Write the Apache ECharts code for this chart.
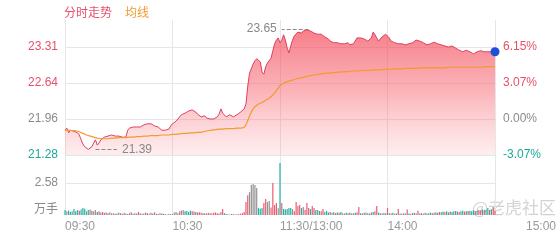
<!DOCTYPE html>
<html><head><meta charset="utf-8">
<script src="https://cdn.jsdelivr.net/npm/echarts@6/dist/echarts.min.js"></script>
<style>html,body{margin:0;padding:0;background:#fff}#c{width:560px;height:240px}</style>
</head><body><div id="c"></div>
<script>
const prevClose = 21.96;
const priceTickLabels = ['21.28', '21.96', '22.64', '23.31'];
const pctTickLabels = ['-3.07%', '0.00%', '3.07%', '6.15%'];
const volTickLabels = ['万手', '2.58'];
const timeTickLabels = ['09:30', '10:30', '11:30/13:00', '14:00', '15:00'];

// 09:30 - 11:30 (121 minutes)
const priceAM = [
21.75,21.79,21.70,21.75,21.72,21.73,21.72,21.70,21.66,21.57,
21.49,21.44,21.42,21.39,21.42,21.44,21.51,21.57,21.47,21.51,
21.57,21.60,21.62,21.60,21.64,21.62,21.66,21.64,21.64,21.62,
21.64,21.62,21.62,21.60,21.62,21.75,21.79,21.77,21.81,21.79,
21.81,21.83,21.81,21.83,21.85,21.83,21.87,21.88,21.87,21.87,
21.83,21.85,21.81,21.79,21.75,21.74,21.75,21.75,21.77,21.83,
21.87,21.90,21.92,21.94,22.00,22.04,22.05,22.07,22.07,22.11,
22.11,22.13,22.11,22.09,22.05,22.04,22.00,22.00,22.02,21.98,
21.96,21.96,21.94,21.96,21.98,22.00,22.05,22.15,22.07,22.04,
22.00,22.02,22.04,22.02,22.00,22.02,22.04,22.05,22.09,22.11,
22.15,22.24,22.58,22.82,22.82,22.99,23.05,23.09,23.07,23.03,
22.84,22.80,22.94,23.01,23.01,23.10,23.24,23.37,23.44,23.48,
23.39];
// 13:01 - 15:00 (120 minutes)
const pricePM = [
23.44,23.54,23.44,23.29,23.20,23.33,23.44,23.52,23.55,23.59,
23.57,23.57,23.61,23.63,23.63,23.65,23.61,23.59,23.57,23.54,
23.55,23.57,23.55,23.54,23.50,23.48,23.46,23.42,23.39,23.39,
23.37,23.39,23.37,23.37,23.35,23.37,23.39,23.39,23.35,23.35,
23.37,23.39,23.48,23.50,23.48,23.48,23.46,23.44,23.42,23.40,
23.48,23.59,23.54,23.48,23.42,23.42,23.50,23.52,23.55,23.57,
23.48,23.42,23.39,23.39,23.37,23.37,23.35,23.37,23.35,23.35,
23.37,23.37,23.39,23.39,23.40,23.44,23.44,23.42,23.40,23.39,
23.37,23.35,23.37,23.37,23.39,23.40,23.39,23.37,23.35,23.35,
23.33,23.33,23.31,23.31,23.31,23.33,23.31,23.29,23.27,23.25,
23.24,23.22,23.24,23.25,23.24,23.22,23.20,23.18,23.16,23.22,
23.22,23.24,23.22,23.22,23.24,23.22,23.22,23.22,23.22,23.22];

const avgAM = [
21.75,21.76,21.75,21.75,21.74,21.74,21.74,21.73,21.72,21.71,
21.69,21.68,21.66,21.65,21.64,21.62,21.62,21.61,21.60,21.60,
21.59,21.59,21.59,21.59,21.59,21.60,21.60,21.60,21.60,21.60,
21.61,21.61,21.61,21.61,21.61,21.61,21.62,21.62,21.62,21.62,
21.63,21.63,21.63,21.63,21.64,21.64,21.64,21.64,21.65,21.65,
21.65,21.65,21.65,21.66,21.66,21.66,21.66,21.66,21.66,21.67,
21.67,21.67,21.67,21.68,21.68,21.68,21.69,21.69,21.69,21.70,
21.70,21.70,21.70,21.71,21.71,21.71,21.71,21.72,21.73,21.73,
21.74,21.74,21.75,21.75,21.76,21.76,21.77,21.77,21.77,21.77,
21.78,21.78,21.78,21.78,21.78,21.79,21.79,21.79,21.79,21.79,
21.80,21.85,21.93,22.01,22.09,22.15,22.19,22.22,22.24,22.26,
22.27,22.29,22.31,22.33,22.35,22.38,22.41,22.45,22.49,22.54,
22.59];
const avgPM = [
22.61,22.63,22.65,22.66,22.67,22.68,22.69,22.70,22.71,22.72,
22.73,22.73,22.74,22.75,22.76,22.77,22.78,22.78,22.79,22.79,
22.80,22.80,22.81,22.81,22.81,22.82,22.82,22.82,22.83,22.83,
22.83,22.84,22.84,22.84,22.84,22.85,22.85,22.85,22.85,22.86,
22.86,22.86,22.86,22.86,22.87,22.87,22.87,22.87,22.87,22.87,
22.88,22.88,22.88,22.88,22.88,22.88,22.88,22.89,22.89,22.89,
22.89,22.89,22.90,22.90,22.90,22.90,22.90,22.90,22.90,22.91,
22.91,22.91,22.91,22.91,22.91,22.91,22.92,22.92,22.92,22.92,
22.92,22.92,22.92,22.92,22.92,22.92,22.92,22.92,22.92,22.92,
22.92,22.92,22.93,22.93,22.93,22.93,22.93,22.93,22.93,22.93,
22.93,22.93,22.93,22.93,22.93,22.93,22.93,22.93,22.93,22.93,
22.93,22.93,22.93,22.94,22.94,22.94,22.94,22.94,22.94,22.94];

// volume, 万手
const volAM = [
0.40,0.30,0.35,0.25,0.30,0.48,0.30,0.40,0.35,0.45,
0.56,0.50,0.30,0.40,0.45,0.35,0.30,0.40,0.25,0.30,0.20,
0.25,0.18,0.20,0.15,0.22,0.12,0.15,0.10,0.12,0.20,
0.15,0.10,0.18,0.12,0.08,0.15,0.22,0.10,0.15,0.12,
0.25,0.15,0.10,0.12,0.20,0.15,0.10,0.18,0.12,0.22,
0.10,0.08,0.15,0.12,0.10,0.08,0.05,0.10,0.06,0.08,
0.20,0.25,0.15,0.30,0.35,0.40,0.30,0.32,0.25,0.35,
0.30,0.28,0.25,0.20,0.22,0.18,0.15,0.15,0.12,0.18,
0.15,0.12,0.18,0.20,0.15,0.12,0.25,0.48,0.15,0.08,
0.06,0.05,0.08,0.06,0.05,0.08,0.06,0.10,0.15,
0.25,1.05,1.60,1.85,2.42,2.50,2.42,2.18,0.56,0.50,
0.56,0.97,1.29,1.05,1.13,0.60,2.58,0.80,0.97,0.55,4.19];
const volPM = [
0.97,0.48,0.45,0.48,0.56,0.56,0.48,0.30,1.05,0.73,
0.80,0.56,0.64,0.40,0.97,0.56,0.48,0.73,0.56,0.40,
0.40,0.32,0.30,0.48,0.25,0.32,
0.20,0.25,0.18,0.22,0.15,0.20,0.18,0.25,0.15,0.12,
0.18,0.15,0.20,0.12,0.15,0.18,0.22,0.64,
0.15,0.12,0.18,0.20,0.15,0.12,0.20,0.25,0.30,0.73,
0.20,0.15,0.12,0.18,0.15,0.56,
0.15,0.12,0.18,0.10,0.12,0.48,
0.12,0.10,0.15,0.12,0.45,
0.12,0.10,0.15,0.18,0.12,0.35,
0.12,0.15,0.10,0.18,0.12,0.15,0.20,0.15,0.18,0.22,0.18,0.25,
0.22,0.28,0.25,0.30,0.22,0.28,0.25,0.30,0.32,0.28,
0.25,0.30,0.35,0.28,0.30,0.32,0.35,0.30,0.38,0.32,
0.35,0.40,0.38,0.45,0.40,0.42,
0.56,0.40,0.45,0.64,0.35];
// bar direction per minute: r = up, t = down, g = flat
const dirAM = ['tgttgtttrtttgtgrggtrg','rgrtgrgrtgrrgtrgrgtr','rgrtgrgrtgrrgtrgrgtr',
  'ggrgrgttttrrtrrrtrrgrrrrrrgrtrtgrtrgrrr','rrrgggggtttrrggrrrrgt'].join('');
const dirPM = ['rtttttgrrrrtgrrrtrrtgtrrtt','trgtrtrtgrtrtrgtr','r','trtgrtrtr','r','trtgt','r',
  'trtrt','r','tgrt','r','trtrt','r','trtrtgtrtrtr','ttrtrtttrtrttrtrtttrtrrtrt','t','rt','r','r'].join('');

const price = priceAM.concat(pricePM);
const avg = avgAM.concat(avgPM);
const vol = volAM.concat(volPM);
const dir = (dirAM + dirPM).split('');

function hm(t) { const h = Math.floor(t / 60), m = t % 60; return (h < 10 ? '0' : '') + h + ':' + (m < 10 ? '0' : '') + m; }
const times = [];
for (let t = 9 * 60 + 30; t <= 11 * 60 + 30; t++) times.push(hm(t));
for (let t = 13 * 60 + 1; t <= 15 * 60; t++) times.push(hm(t));

[price, avg, vol, dir].forEach((a, k) => { if (a.length !== times.length) throw new Error('len mismatch ' + k + ': ' + a.length); });

const F = '"Liberation Sans", Arial, "Noto Sans CJK SC", sans-serif';
const RED = '#e8506a', GREEN = '#1aa99b', GREY = '#8a8a8a', ORANGE = '#f29b2e';
const barColor = { r: '#ee5b70', t: '#22b3a5', g: '#929292' };
const priceMin = 21.285, priceStep = 0.675, priceMax = 23.816;
const volStep = 2.58, volMax = 4.84;

let maxI = 0, minI = 0;
price.forEach((v, i) => { if (v > price[maxI]) maxI = i; if (v < price[minI]) minI = i; });
const last = price.length - 1;

const tickStyle = ['d', 'n', 'u', 'u'];
const rich = {
  u: { color: RED, fontSize: 12, fontFamily: F },
  n: { color: GREY, fontSize: 12, fontFamily: F },
  d: { color: GREEN, fontSize: 12, fontFamily: F },
  g: { color: GREY, fontSize: 12, fontFamily: F },
  unit: { color: GREY, fontSize: 12, fontFamily: F, padding: [0, 0, 10, 0] }
};
const xRich = {
  t: { color: '#999', fontSize: 12, fontFamily: F },
  e: { color: '#999', fontSize: 12, fontFamily: F, padding: [0, 0, 0, 31] }
};
const splitX = { show: true, interval: (i) => i % 60 === 0, lineStyle: { color: '#e6e6e6', width: 1 } };

const chart = echarts.init(document.getElementById('c'), null, { renderer: 'canvas' });
chart.setOption({
  animation: false,
  legend: {
    left: 53, top: 3, itemWidth: 0, itemHeight: 0, itemGap: 7, selectedMode: false,
    textStyle: { fontSize: 12, fontFamily: F },
    data: [{ name: '分时走势', textStyle: { color: RED } }, { name: '均线', textStyle: { color: ORANGE } }]
  },
  grid: [
    { left: 65, top: 20, width: 430, height: 135 },
    { left: 65, top: 155, width: 430, height: 60 }
  ],
  xAxis: [
    { type: 'category', gridIndex: 0, data: times, boundaryGap: false,
      axisLine: { show: false }, axisTick: { show: false }, axisLabel: { show: false }, splitLine: splitX },
    { type: 'category', gridIndex: 1, data: times, boundaryGap: false,
      axisLine: { show: false }, axisTick: { show: false }, splitLine: splitX,
      axisLabel: { show: true, interval: (i) => i % 60 === 0, align: 'left',
        margin: 6, color: '#999', fontSize: 12, fontFamily: F, hideOverlap: false, rich: xRich,
        formatter: (v) => {
          const k = Math.round(times.indexOf(v) / 60);
          const s = timeTickLabels[k] || '';
          return k === timeTickLabels.length - 1 ? '{e|' + s + '}' : '{t|' + s + '}';
        } } }
  ],
  yAxis: [
    { type: 'value', gridIndex: 0, min: priceMin, max: priceMax, interval: priceStep,
      axisLine: { show: false }, axisTick: { show: false },
      splitLine: { show: true, showMaxLine: false, lineStyle: { color: '#e6e6e6' } },
      axisLabel: { margin: 7, showMaxLabel: false, rich: rich,
        formatter: (v) => { const k = Math.round((v - priceMin) / priceStep); return k > 3 ? '' : '{' + tickStyle[k] + '|' + priceTickLabels[k] + '}'; } } },
    { type: 'value', gridIndex: 0, position: 'right', min: priceMin, max: priceMax, interval: priceStep,
      axisLine: { show: false }, axisTick: { show: false }, splitLine: { show: false },
      axisLabel: { margin: 8, showMaxLabel: false, rich: rich,
        formatter: (v) => { const k = Math.round((v - priceMin) / priceStep); return k > 3 ? '' : '{' + tickStyle[k] + '|' + pctTickLabels[k] + '}'; } } },
    { type: 'value', gridIndex: 1, min: 0, max: volMax, interval: volStep,
      axisLine: { show: false }, axisTick: { show: false },
      splitLine: { show: true, showMinLine: false, showMaxLine: false, lineStyle: { color: '#e6e6e6' } },
      axisLabel: { margin: 7, showMaxLabel: false, rich: rich,
        formatter: (v) => { const k = Math.round(v / volStep); return k === 0 ? '{unit|' + volTickLabels[0] + '}' : (k === 1 ? '{g|' + volTickLabels[1] + '}' : ''); } } }
  ],
  series: [
    { name: '分时走势', type: 'line', xAxisIndex: 0, yAxisIndex: 0, data: price, symbol: 'none',
      lineStyle: { color: '#e03e5e', width: 1 }, itemStyle: { color: RED },
      areaStyle: { color: new echarts.graphic.LinearGradient(0, 0, 0, 1, [
        { offset: 0, color: 'rgba(242,60,76,0.95)' },
        { offset: 0.5, color: 'rgba(246,96,108,0.68)' },
        { offset: 1, color: 'rgba(250,140,150,0.22)' }]) },
      markPoint: { symbol: 'circle', symbolSize: 9, silent: true, itemStyle: { color: '#1d4fd8' }, label: { show: false },
        data: [{ coord: [times[last], price[last]] }] },
      markLine: { symbol: ['none', 'none'], silent: true,
        lineStyle: { type: 'dashed', color: '#888', width: 1 },
        label: { position: 'end', color: '#888', fontSize: 12, fontFamily: F, distance: 5, formatter: '{b}' },
        data: [
          [{ name: price[maxI].toFixed(2), coord: [times[maxI], price[maxI]] }, { coord: [times[maxI - 15], price[maxI]] }],
          [{ name: price[minI].toFixed(2), coord: [times[minI + 4], price[minI]] }, { coord: [times[minI + 16], price[minI]] }]
        ] } },
    { name: '均线', type: 'line', xAxisIndex: 0, yAxisIndex: 0, data: avg, symbol: 'none',
      lineStyle: { color: ORANGE, width: 1.2 }, itemStyle: { color: ORANGE } },
    { name: '成交量', type: 'bar', xAxisIndex: 1, yAxisIndex: 2, barWidth: 1.2,
      data: vol.map((v, i) => ({ value: v, itemStyle: { color: barColor[dir[i]] } })) }
  ],
  graphic: [
    { type: 'text', left: 472, top: 199, silent: true,
      style: { text: '@老虎社区', fontSize: 17, fontFamily: '"Noto Sans CJK SC", sans-serif', fill: 'rgba(175,175,175,0.55)' } }
  ]
});
</script>
</body></html>
